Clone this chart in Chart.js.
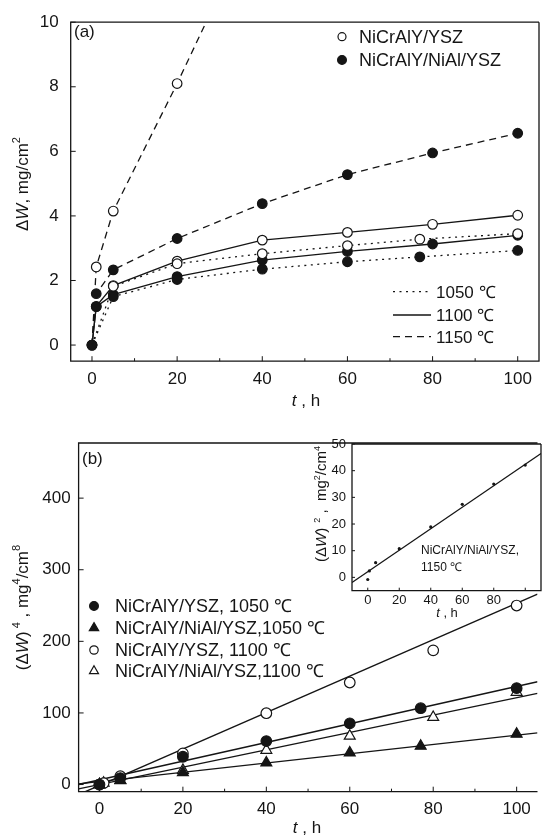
<!DOCTYPE html>
<html>
<head>
<meta charset="utf-8">
<script src="https://cdn.jsdelivr.net/npm/chart.js@4.4.1/dist/chart.umd.min.js"></script>
<style>
  html, body { margin: 0; padding: 0; background: #fff; overflow: hidden; }
  #wrap { position: relative; width: 545px; height: 835px; }
  canvas { position: absolute; }
  #cA { left: 0; top: 0; }
  #cB { left: 0; top: 420px; }
  #cC { left: 290px; top: 425px; }
</style>
</head>
<body>
<div id="wrap">
  <canvas id="cA" width="545" height="420"></canvas>
  <canvas id="cB" width="545" height="415"></canvas>
  <canvas id="cC" width="255" height="200"></canvas>
</div>
<script>
// ---- data ----
const timeTicks = [0, 20, 40, 60, 80, 100];
const minorTicks = [10, 30, 50, 70, 90];
const dwTicks = [0, 2, 4, 6, 8, 10];
const dw4Ticks = [0, 100, 200, 300, 400];
const dw2Ticks = [0, 10, 20, 30, 40, 50];
const insetTimeLabels = ['0', '20', '40', '60', '80', ''];

const hours = [0, 1, 5, 20, 40, 60, 80, 100];
const hours1050 = [0, 5, 20, 40, 60, 77, 100];
const hours1150Open = [0, 1, 5, 20, 26.8];   // last point: where the curve leaves the frame

// (a) weight gain, mg/cm2
const yszA1050 = [0, 1.82, 2.52, 2.83, 3.08, 3.28, 3.45];
const nialA1050 = [0, 1.50, 2.03, 2.35, 2.58, 2.73, 2.93];
const yszA1100 = [0, 1.20, 1.84, 2.60, 3.25, 3.49, 3.74, 4.02];
const nialA1100 = [0, 1.19, 1.56, 2.12, 2.63, 2.90, 3.13, 3.40];
const yszA1150 = [0, 2.42, 4.15, 8.10, 10];
const nialA1150 = [0, 1.59, 2.33, 3.30, 4.38, 5.28, 5.95, 6.56];

// (b) (dW)^4, mg4/cm8
const yszB1050 = [0, 9, 38.8, 60.7, 85.5, 106.6, 134.6];
const nialB1050 = [0, 5.5, 16.8, 30.3, 44.3, 53.7, 70.5];
const yszB1100 = [0, 2, 11.6, 43.5, 99.6, 142.5, 187.4, 250];
const nialB1100 = [0, 2, 6, 20, 48, 67.7, 94, 129];
const fitHours = [-5, 105];
const fitYsz1050 = [0, 143.5];
const fitNial1050 = [1, 72.2];
const fitYsz1100 = [-14, 266];
const fitNial1100 = [-6, 127.3];

// inset: (dW)^2, NiCrAlY/NiAl/YSZ 1150 C
const insetHours = [0, 1, 5, 20, 40, 60, 80, 100];
const insetDw2 = [-0.8, 2.4, 5.5, 10.75, 18.9, 27.4, 35, 42.1];
const insetFitHours = [-10, 110];
const insetFit = [-1.9, 46.4];

const legendA = ['NiCrAlY/YSZ', 'NiCrAlY/NiAl/YSZ'];
const tempLabels = ['1050 ℃', '1100 ℃', '1150 ℃'];
const legendB = ['NiCrAlY/YSZ, 1050 ℃', 'NiCrAlY/NiAl/YSZ,1050 ℃', 'NiCrAlY/YSZ, 1100 ℃', 'NiCrAlY/NiAl/YSZ,1100 ℃'];

// ---- drawing helpers ----
const ink = '#151515';
const family = '"Liberation Sans", Arial, sans-serif';
const dotted = [2, 4.5];
const dashed = [7, 5];

function pts(xs, ys) { return xs.map((x, i) => ({ x: x, y: ys[i] })); }

function rich(ctx, x, y, parts, size, rotate) {
  const fontOf = s => (s === 'i' ? 'italic ' : '') + (s === 'sup' ? Math.round(size * 0.62) : size) + 'px ' + family;
  ctx.save();
  ctx.translate(x, y);
  if (rotate) ctx.rotate(-Math.PI / 2);
  ctx.fillStyle = ink;
  ctx.textBaseline = 'alphabetic';
  let w = 0;
  parts.forEach(p => { ctx.font = fontOf(p[1]); w += ctx.measureText(p[0]).width; });
  let cx = -w / 2;
  parts.forEach(p => {
    ctx.font = fontOf(p[1]);
    ctx.fillText(p[0], cx, p[1] === 'sup' ? size * 0.36 - size * 0.45 : size * 0.36);
    cx += ctx.measureText(p[0]).width;
  });
  ctx.restore();
}

function label(ctx, text, x, y, size) {
  ctx.save();
  ctx.font = size + 'px ' + family;
  ctx.fillStyle = ink;
  ctx.textBaseline = 'alphabetic';
  ctx.fillText(text, x, y + size * 0.36);
  ctx.restore();
}

function marker(ctx, x, y, shape, filled, r) {
  ctx.save();
  ctx.beginPath();
  if (shape === 'circle') ctx.arc(x, y, r, 0, Math.PI * 2);
  else { ctx.moveTo(x, y - r); ctx.lineTo(x + r * 0.866, y + r * 0.5); ctx.lineTo(x - r * 0.866, y + r * 0.5); ctx.closePath(); }
  ctx.fillStyle = filled ? ink : '#fff';
  ctx.fill();
  ctx.lineWidth = 1.2;
  ctx.strokeStyle = ink;
  ctx.stroke();
  ctx.restore();
}

function sample(ctx, x1, x2, y, dash) {
  ctx.save();
  ctx.strokeStyle = ink;
  ctx.lineWidth = 1.3;
  ctx.setLineDash(dash);
  ctx.beginPath(); ctx.moveTo(x1, y); ctx.lineTo(x2, y); ctx.stroke();
  ctx.restore();
}

// box round the plot plus inward tick marks
const frame = {
  id: 'frame',
  beforeDatasetsDraw(chart, args, o) {
    if (!o.fill) return;
    const a = chart.chartArea;
    chart.ctx.save();
    chart.ctx.fillStyle = '#fff';
    chart.ctx.fillRect(a.left, a.top, a.right - a.left, a.bottom - a.top);
    chart.ctx.restore();
  },
  afterDraw(chart, args, o) {
    const ctx = chart.ctx, a = chart.chartArea, sx = chart.scales.x, sy = chart.scales.y;
    const len = o.tickLen;
    ctx.save();
    ctx.strokeStyle = ink;
    ctx.lineWidth = 1.3;
    ctx.beginPath();
    ctx.moveTo(a.right, a.top); ctx.lineTo(a.left, a.top); ctx.lineTo(a.left, a.bottom); ctx.lineTo(a.right, a.bottom);
    if (o.right) ctx.lineTo(a.right, a.top);
    ctx.stroke();
    ctx.lineWidth = 1;
    ctx.beginPath();
    sx.ticks.forEach(t => { const p = sx.getPixelForValue(t.value); ctx.moveTo(p, a.bottom); ctx.lineTo(p, a.bottom - len); });
    (o.xMinor || []).forEach(v => { const p = sx.getPixelForValue(v); ctx.moveTo(p, a.bottom); ctx.lineTo(p, a.bottom - len * 0.6); });
    sy.ticks.forEach(t => { const p = sy.getPixelForValue(t.value); ctx.moveTo(a.left, p); ctx.lineTo(a.left + len, p); });
    ctx.stroke();
    ctx.restore();
  }
};

function axes(o) {
  return {
    x: {
      type: 'linear', min: o.xMin, max: o.xMax,
      grid: { display: false, drawTicks: false }, border: { display: false },
      afterBuildTicks: s => { s.ticks = timeTicks.map(v => ({ value: v })); },
      afterFit: s => { s.height = o.xHeight; },
      ticks: { color: ink, font: { family: family, size: o.font }, padding: o.xPad, maxRotation: 0, autoSkip: false,
               callback: o.xLabels ? (v, i) => o.xLabels[i] : v => v }
    },
    y: {
      type: 'linear', min: o.yMin, max: o.yMax,
      grid: { display: false, drawTicks: false }, border: { display: false },
      afterBuildTicks: s => { s.ticks = o.yTicks.map(v => ({ value: v })); },
      afterFit: s => { s.width = o.yWidth; },
      ticks: { color: ink, font: { family: family, size: o.font }, padding: o.yPad, autoSkip: false }
    }
  };
}

function series(xs, ys, opt) {
  return Object.assign({
    data: pts(xs, ys), showLine: true, borderColor: ink, borderWidth: 1.3, tension: 0,
    pointBorderColor: ink, pointBorderWidth: 1.2, pointRadius: 4.8, pointStyle: 'circle'
  }, opt);
}

const open = { pointBackgroundColor: '#fff' };
const full = { pointBackgroundColor: ink };
const noFirst = ys => ys.map((v, i) => i === 0 ? 0 : 4.8);

// ---- (a) ----
new Chart(document.getElementById('cA'), {
  type: 'scatter',
  data: {
    datasets: [
      series(hours1050, yszA1050, Object.assign({ borderDash: dotted, pointRadius: noFirst(yszA1050) }, open)),
      series(hours1050, nialA1050, Object.assign({ borderDash: dotted }, full)),
      series(hours, nialA1100, full),
      series(hours, yszA1100, Object.assign({ pointRadius: noFirst(yszA1100) }, open)),
      series(hours, nialA1150, Object.assign({ borderDash: dashed }, full)),
      series(hours1150Open, yszA1150, Object.assign({ borderDash: dashed, pointRadius: [0, 4.8, 4.8, 4.8, 0] }, open))
    ]
  },
  options: {
    responsive: false, animation: false, events: [],
    layout: { padding: { left: 0, top: 15.7, right: 4.3, bottom: 0 } },
    plugins: { legend: { display: false }, tooltip: { enabled: false }, frame: { tickLen: 5, right: true, xMinor: minorTicks } },
    scales: axes({ xMin: -5, xMax: 105, yMin: -0.5, yMax: 10, yTicks: dwTicks, xHeight: 58.8, yWidth: 70.7, font: 17, xPad: 8, yPad: 12 })
  },
  plugins: [frame, {
    id: 'notesA',
    afterDraw(chart) {
      const ctx = chart.ctx;
      label(ctx, '(a)', 74, 31, 17);
      marker(ctx, 342, 36.7, 'circle', false, 4);
      label(ctx, legendA[0], 359, 36.7, 18);
      marker(ctx, 342, 60, 'circle', true, 4.4);
      label(ctx, legendA[1], 359, 60, 18);
      [dotted, [], dashed].forEach((d, i) => {
        const y = [291.7, 315, 336.7][i];
        sample(ctx, 393, 431, y, d);
        label(ctx, tempLabels[i], 436, y, 17);
      });
      rich(ctx, 22, 184, [['Δ', ''], ['W', 'i'], [', mg/cm', ''], ['2', 'sup']], 17, true);
      rich(ctx, 306, 400, [['t', 'i'], [' , h', '']], 17, false);
    }
  }]
});

// ---- (b) ----
const fitLine = ys => ({ data: pts(fitHours, ys), showLine: true, borderColor: ink, borderWidth: 1.4, pointRadius: 0 });
const marks = (xs, ys, shape, filled, r) => ({
  data: pts(xs, ys), showLine: false, pointStyle: shape, pointRadius: r,
  pointBackgroundColor: filled ? ink : '#fff', pointBorderColor: ink, pointBorderWidth: 1.2
});

new Chart(document.getElementById('cB'), {
  type: 'scatter',
  data: {
    datasets: [
      marks(hours1050, yszB1050, 'circle', true, 5.3),
      marks(hours1050, nialB1050, 'triangle', true, 6.3),
      marks(hours, yszB1100, 'circle', false, 5.3),
      marks(hours, nialB1100, 'triangle', false, 6.3),
      fitLine(fitYsz1050), fitLine(fitNial1050), fitLine(fitYsz1100), fitLine(fitNial1100)
    ]
  },
  options: {
    responsive: false, animation: false, events: [],
    layout: { padding: { left: 0, top: 23, right: 0, bottom: 0 } },
    plugins: { legend: { display: false }, tooltip: { enabled: false }, frame: { tickLen: 5, right: false, xMinor: minorTicks } },
    scales: axes({ xMin: -5, xMax: 105, yMin: -10, yMax: 477, yTicks: dw4Ticks, xHeight: 43.3, yWidth: 78.6, font: 17, xPad: 7, yPad: 8 })
  },
  plugins: [frame, {
    id: 'notesB',
    afterDraw(chart) {
      const ctx = chart.ctx;
      label(ctx, '(b)', 82, 38, 17);
      const rows = [186, 208, 230, 251];
      const sym = [['circle', true, 4.4], ['triangle', true, 5.4], ['circle', false, 4.2], ['triangle', false, 5.2]];
      rows.forEach((y, i) => {
        marker(ctx, 94, y, sym[i][0], sym[i][1], sym[i][2]);
        label(ctx, legendB[i], 115, y, 18);
      });
      rich(ctx, 22, 187.5, [['(Δ', ''], ['W', 'i'], [')', ''], [' 4', 'sup'], [' , mg', ''], ['4', 'sup'], ['/cm', ''], ['8', 'sup']], 17, true);
      rich(ctx, 307, 407, [['t', 'i'], [' , h', '']], 17, false);
    }
  }]
});

// ---- inset ----
new Chart(document.getElementById('cC'), {
  type: 'scatter',
  data: {
    datasets: [
      { data: pts(insetHours, insetDw2), showLine: false, pointRadius: 1.6, pointBackgroundColor: ink, pointBorderWidth: 0 },
      { data: pts(insetFitHours, insetFit), showLine: true, borderColor: ink, borderWidth: 1.2, pointRadius: 0 }
    ]
  },
  options: {
    responsive: false, animation: false, events: [],
    layout: { padding: { left: 0, top: 19, right: 1, bottom: 0 } },
    plugins: { legend: { display: false }, tooltip: { enabled: false }, frame: { tickLen: 3, right: true, fill: true } },
    scales: axes({ xMin: -10, xMax: 110, yMin: -5, yMax: 50, yTicks: dw2Ticks, xHeight: 34.3, yWidth: 62, font: 13, xPad: 2, yPad: 6, xLabels: insetTimeLabels })
  },
  plugins: [frame, {
    id: 'notesC',
    afterDraw(chart) {
      const ctx = chart.ctx;
      label(ctx, 'NiCrAlY/NiAl/YSZ,', 131, 125, 12);
      label(ctx, '1150 ℃', 131, 142, 12);
      rich(ctx, 31, 79, [['(Δ', ''], ['W', 'i'], [')', ''], ['  2', 'sup'], [' ,  mg', ''], ['2', 'sup'], ['/cm', ''], ['4', 'sup']], 15, true);
      rich(ctx, 157, 187, [['t', 'i'], [' , h', '']], 13, false);
    }
  }]
});
</script>
</body>
</html>
